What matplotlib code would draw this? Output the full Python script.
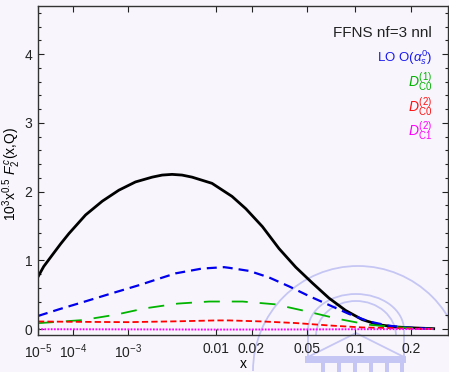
import numpy as np
import matplotlib
matplotlib.use("Agg")
import matplotlib.pyplot as plt
from matplotlib.ticker import MultipleLocator, NullLocator
from matplotlib.patches import Arc, Rectangle
from matplotlib.lines import Line2D

plt.rcParams["font.family"] = ["Liberation Sans", "DejaVu Sans"]
plt.rcParams["mathtext.fontset"] = "custom"
plt.rcParams["mathtext.rm"] = "Liberation Sans"
plt.rcParams["mathtext.it"] = "Liberation Sans:italic"
plt.rcParams["mathtext.bf"] = "Liberation Sans:bold"
plt.rcParams["lines.scale_dashes"] = False

# total FFNS nnl
x_total = [1e-5, 1.58e-5, 2.95e-5, 5.0e-5, 8.07e-5, 1.87e-4, 3.85e-4, 7.21e-4,
           1.26e-3, 2.09e-3, 2.76e-3, 3.59e-3, 4.61e-3, 5.86e-3, 9.15e-3,
           0.0138, 0.0180, 0.0243, 0.0323, 0.0423, 0.0546, 0.0696, 0.0878,
           0.1094, 0.1353, 0.1659, 0.2095, 0.257]
f2_total = [0.76, 0.91, 1.08, 1.24, 1.39, 1.66, 1.86, 2.02,
            2.14, 2.21, 2.24, 2.25, 2.24, 2.21, 2.12,
            1.93, 1.75, 1.49, 1.17, 0.90, 0.67, 0.45, 0.27,
            0.137, 0.062, 0.03, 0.015, 0.005]

# LO O(alpha_s^0)
x_lo = [1e-5, 4.71e-5, 1.63e-4, 5.14e-4, 1.43e-3, 2.35e-3, 3.93e-3, 7.38e-3,
        0.0118, 0.0131, 0.0192, 0.0273, 0.0381, 0.0519, 0.0696, 0.0918,
        0.1193, 0.153, 0.194, 0.257]
f2_lo = [0.19, 0.29, 0.39, 0.51, 0.64, 0.72, 0.81, 0.88,
         0.90, 0.89, 0.845, 0.75, 0.62, 0.48, 0.35, 0.22,
         0.11, 0.048, 0.02, 0.0]

# D_C0^(1)
x_c0_1 = [1e-5, 1.63e-4, 6.57e-4, 1.67e-3, 4.14e-3, 8.61e-3, 0.0169, 0.0301,
          0.0506, 0.0801, 0.1193, 0.1725, 0.257]
d_c0_1 = [0.085, 0.13, 0.21, 0.30, 0.37, 0.40, 0.40, 0.36,
          0.255, 0.145, 0.062, 0.025, 0.0]

# D_C0^(2)
x_c0_2 = [1e-5, 1e-4, 1e-3, 4e-3, 0.01, 0.0131, 0.0243, 0.0423, 0.0696,
          0.1094, 0.166, 0.257]
d_c0_2 = [0.11, 0.105, 0.10, 0.112, 0.125, 0.125, 0.11, 0.087, 0.052,
          0.023, 0.012, 0.0]

# D_C1^(2)
x_c1_2 = [1e-5, 1e-3, 0.01, 0.05, 0.1, 0.257]
d_c1_2 = [-0.003, -0.005, -0.008, -0.006, -0.003, 0.0]

xticks = [1e-5, 1e-4, 1e-3, 0.01, 0.02, 0.05, 0.1, 0.2]
xticklabels = [r"$10^{-5}$", r"$10^{-4}$", r"$10^{-3}$",
               "0.01", "0.02", "0.05", "0.1", "0.2"]
yticks = [0, 1, 2, 3, 4]

bg = "#f8f6fc"
W, H = 449, 372
fig = plt.figure(figsize=(W / 100, H / 100), dpi=100, facecolor=bg)

# faint crest drawn behind the plot, in pixel coordinates
wm = fig.add_axes([0, 0, 1, 1], zorder=0)
wm.set_xlim(0, W)
wm.set_ylim(H, 0)
wm.patch.set_visible(False)
wm.axis("off")
wc = "#c6c6f4"
wm.add_patch(Arc((358, 371), 210, 210, theta1=180, theta2=360, color=wc, lw=1.3))
wm.add_patch(Arc((356, 330), 96, 72, theta1=180, theta2=360, color=wc, lw=1.3))
wm.add_patch(Arc((356, 336), 80, 70, theta1=180, theta2=360, color=wc, lw=1.3))
for xv in (308, 404):
    wm.add_line(Line2D([xv, xv], [330, 357], color=wc, lw=1.3))
wm.add_line(Line2D([308, 356, 404], [357, 333, 357], color=wc, lw=1.3))
wm.add_patch(Rectangle((305, 356), 101, 7, color=wc, lw=0))
for xv in (323, 339, 355, 371, 387, 402):
    wm.add_patch(Rectangle((xv - 1.6, 363), 3.2, 10, color=wc, lw=0))

ax = fig.add_axes([38 / W, 1 - 335 / H, 410 / W, 329 / H], zorder=1)
ax.set_facecolor("none")

ax.set_xscale("function", functions=(lambda x: np.power(np.clip(x, 0, None), 0.2),
                                     lambda t: np.power(np.clip(t, 0, None), 5)))

ax.plot(x_total, f2_total, color="black", lw=2.0, solid_joinstyle="round")
ax.plot(x_lo, f2_lo, color="#0000ee", lw=1.6, linestyle=(0, (7.2, 4.3)))
ax.plot(x_c0_1, d_c0_1, color="#00b400", lw=1.3, linestyle=(0, (11.5, 8.6)))
ax.plot(x_c0_2, d_c0_2, color="#ff0000", lw=1.3, linestyle=(0, (4.5, 2.3)))
ax.plot(x_c1_2, d_c1_2, color="#ff00ff", lw=1.4, linestyle=(0, (1.3, 1.0)))

ax.set_xlim(1e-5, 0.3)
ax.set_ylim(-0.087, 4.7)

ax.set_xticks(xticks, labels=xticklabels)
ax.xaxis.set_minor_locator(NullLocator())
ax.set_yticks(yticks)
ax.yaxis.set_minor_locator(MultipleLocator(0.2))

ax.tick_params(which="both", direction="in", top=True, right=True,
               labelsize=10, colors="#222222", width=0.8)
ax.tick_params(which="major", length=4.5, pad=4)
ax.tick_params(which="minor", length=2.2)
ax.tick_params(axis="x", pad=5)
for s in ax.spines.values():
    s.set_color("#333333")
    s.set_linewidth(1.0)

ax.set_xlabel("x", fontsize=10)
ax.xaxis.set_label_coords(0.5, -0.068)
ax.set_ylabel(r"$10^3$x$^{0.5}$ $F_2^{\,c}$(x,Q)", fontsize=10)
ax.yaxis.set_label_coords(-0.036, 0.49)

tx = 432 / W
fig.text(tx, 1 - 33 / H, "FFNS nf=3 nnl", ha="right", va="center",
         fontsize=11, color="#222222")
fig.text(tx, 1 - 58 / H, r"LO O($\alpha_s^0$)", ha="right", va="center",
         fontsize=9.5, color="#1a1aee")
fig.text(tx, 1 - 82 / H, r"$D^{(1)}_{\rm C0}$", ha="right", va="center",
         fontsize=10, color="#00b400")
fig.text(tx, 1 - 107 / H, r"$D^{(2)}_{\rm C0}$", ha="right", va="center",
         fontsize=10, color="#ff1010")
fig.text(tx, 1 - 131 / H, r"$D^{(2)}_{\rm C1}$", ha="right", va="center",
         fontsize=10, color="#ff00ff")

fig.savefig("out.png", dpi=100, facecolor=bg)
